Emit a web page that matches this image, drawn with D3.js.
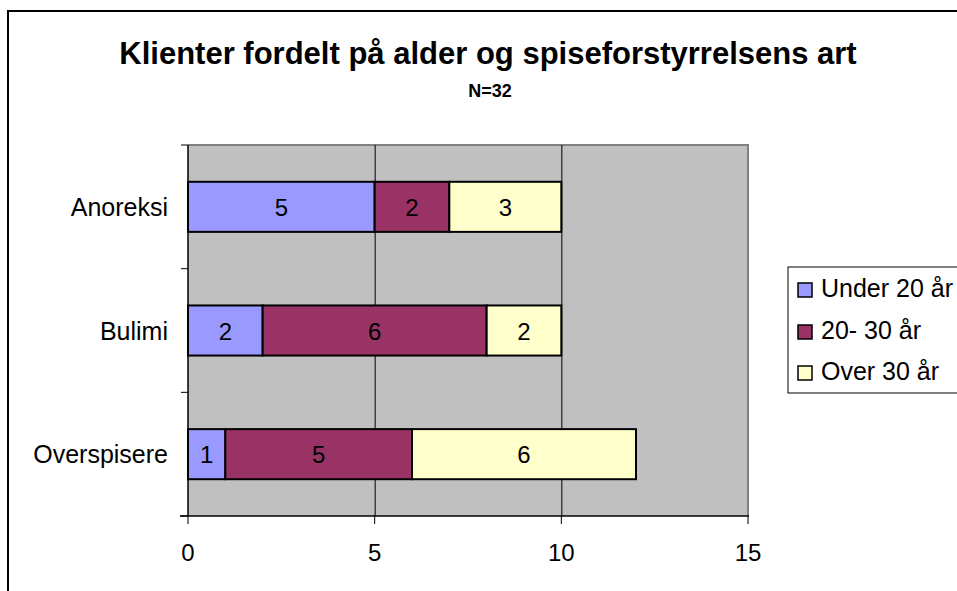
<!DOCTYPE html>
<html>
  <head>
    <meta http-equiv="Content-Type" content="text/html;charset=utf-8"/>
    <script src="https://d3js.org/d3.v7.min.js"></script>
    <style type="text/css">
    body { margin: 0; background: #fff; }
    text { font-family: Arial, "Liberation Sans", sans-serif; fill: #000; }
    .grid-line { stroke: #000; stroke-width: 1px; }
    </style>
  </head>
  <body>
    <script type="text/javascript">
      var categories = ["Anoreksi", "Bulimi", "Overspisere"];
      var seriesNames = ["Under 20 år", "20- 30 år", "Over 30 år"];
      var under20 = [5, 2, 1];
      var age20to30 = [2, 6, 5];
      var over30 = [3, 2, 6];
      var xTicks = [0, 5, 10, 15];
      var colors = ["#9999FF", "#993366", "#FFFFCC"];

      var width = 957;
      var height = 591;
      var plot = { left: 188, right: 748, top: 145, bottom: 516 };

      var svg = d3.select("body")
        .append("svg")
          .attr("width", width)
          .attr("height", height);

      // outer chart frame
      svg.append("rect")
        .attr("x", 8).attr("y", 11)
        .attr("width", 960).attr("height", 600)
        .attr("fill", "none")
        .attr("stroke", "#000")
        .attr("stroke-width", 2);

      svg.append("text")
        .attr("x", 488).attr("y", 64)
        .attr("text-anchor", "middle")
        .style("font-size", "31px")
        .style("font-weight", "bold")
        .text("Klienter fordelt på alder og spiseforstyrrelsens art");

      svg.append("text")
        .attr("x", 490).attr("y", 97)
        .attr("text-anchor", "middle")
        .style("font-size", "18px")
        .style("font-weight", "bold")
        .text("N=32");

      var x = d3.scaleLinear().domain([0, 15]).range([plot.left, plot.right]);
      var y = d3.scaleBand().domain(categories)
        .range([plot.top, plot.bottom])
        .paddingInner(0.595).paddingOuter(0.2975);
      var yEdges = d3.scaleLinear().domain([0, categories.length]).range([plot.top, plot.bottom]);

      // plot background
      svg.append("rect")
        .attr("x", plot.left).attr("y", plot.top)
        .attr("width", plot.right - plot.left)
        .attr("height", plot.bottom - plot.top)
        .attr("fill", "#C0C0C0");

      svg.append("path")
        .attr("d", "M" + plot.left + "," + plot.top + "H" + plot.right + "V" + plot.bottom)
        .attr("fill", "none")
        .attr("stroke", "#808080")
        .attr("stroke-width", 2);

      svg.selectAll("line.grid-line")
        .data(xTicks.filter(function(d) { return d > 0 && d < 15; }))
        .enter().append("line")
          .classed("grid-line", true)
          .attr("x1", function(d) { return x(d) + 0.5; })
          .attr("x2", function(d) { return x(d) + 0.5; })
          .attr("y1", plot.top)
          .attr("y2", plot.bottom);

      // stacked bars
      var rows = categories.map(function(c, i) {
        return { cat: c, values: [under20[i], age20to30[i], over30[i]] };
      });
      var stack = d3.stack().keys([0, 1, 2])
        .value(function(d, k) { return d.values[k]; });
      var layers = stack(rows);

      layers.forEach(function(layer, k) {
        var g = svg.append("g");
        g.selectAll("rect")
          .data(layer)
          .enter().append("rect")
            .attr("x", function(d) { return x(d[0]); })
            .attr("y", function(d) { return y(d.data.cat); })
            .attr("width", function(d) { return x(d[1]) - x(d[0]); })
            .attr("height", y.bandwidth())
            .attr("fill", colors[k])
            .attr("stroke", "#000")
            .attr("stroke-width", 2);
        g.selectAll("text")
          .data(layer)
          .enter().append("text")
            .attr("x", function(d) { return (x(d[0]) + x(d[1])) / 2; })
            .attr("y", function(d) { return y(d.data.cat) + y.bandwidth() / 2 + 9; })
            .attr("text-anchor", "middle")
            .style("font-size", "24px")
            .text(function(d) { return d[1] - d[0]; });
      });

      // x axis
      var xAxis = svg.append("g")
        .attr("transform", "translate(0," + plot.bottom + ")");
      xAxis.append("line")
        .attr("x1", 180).attr("x2", plot.right + 1)
        .attr("stroke", "#000").attr("stroke-width", 1.5);
      xAxis.selectAll("line.tick")
        .data(xTicks)
        .enter().append("line")
          .attr("class", "tick")
          .attr("x1", function(d) { return x(d); })
          .attr("x2", function(d) { return x(d); })
          .attr("y1", 0).attr("y2", 8)
          .attr("stroke", "#000");
      xAxis.selectAll("text")
        .data(xTicks)
        .enter().append("text")
          .attr("x", function(d) { return x(d); })
          .attr("y", 45)
          .attr("text-anchor", "middle")
          .style("font-size", "24px")
          .text(function(d) { return d; });

      // y axis
      var yAxis = svg.append("g");
      yAxis.append("line")
        .attr("x1", plot.left).attr("x2", plot.left)
        .attr("y1", plot.top).attr("y2", plot.bottom)
        .attr("stroke", "#000").attr("stroke-width", 1.5);
      yAxis.selectAll("line.tick")
        .data(d3.range(categories.length + 1))
        .enter().append("line")
          .attr("x1", plot.left - 7).attr("x2", plot.left)
          .attr("y1", function(d) { return yEdges(d); })
          .attr("y2", function(d) { return yEdges(d); })
          .attr("stroke", "#000");
      yAxis.selectAll("text")
        .data(categories)
        .enter().append("text")
          .attr("x", 168)
          .attr("y", function(d) { return y(d) + y.bandwidth() / 2 + 9; })
          .attr("text-anchor", "end")
          .style("font-size", "25px")
          .text(function(d) { return d; });

      // legend
      var legend = svg.append("g");
      legend.append("rect")
        .attr("x", 788).attr("y", 267)
        .attr("width", 200).attr("height", 126)
        .attr("fill", "#fff")
        .attr("stroke", "#000").attr("stroke-width", 1);
      var item = legend.selectAll("g.item")
        .data(seriesNames)
        .enter().append("g")
          .attr("transform", function(d, i) { return "translate(798," + [297, 339, 380][i] + ")"; });
      item.append("rect")
        .attr("x", 0).attr("y", -14)
        .attr("width", 14).attr("height", 14)
        .attr("fill", function(d, i) { return colors[i]; })
        .attr("stroke", "#000").attr("stroke-width", 1.5);
      item.append("text")
        .attr("x", 23).attr("y", 0)
        .style("font-size", "25px")
        .text(function(d) { return d; });
    </script>
  </body>
</html>
